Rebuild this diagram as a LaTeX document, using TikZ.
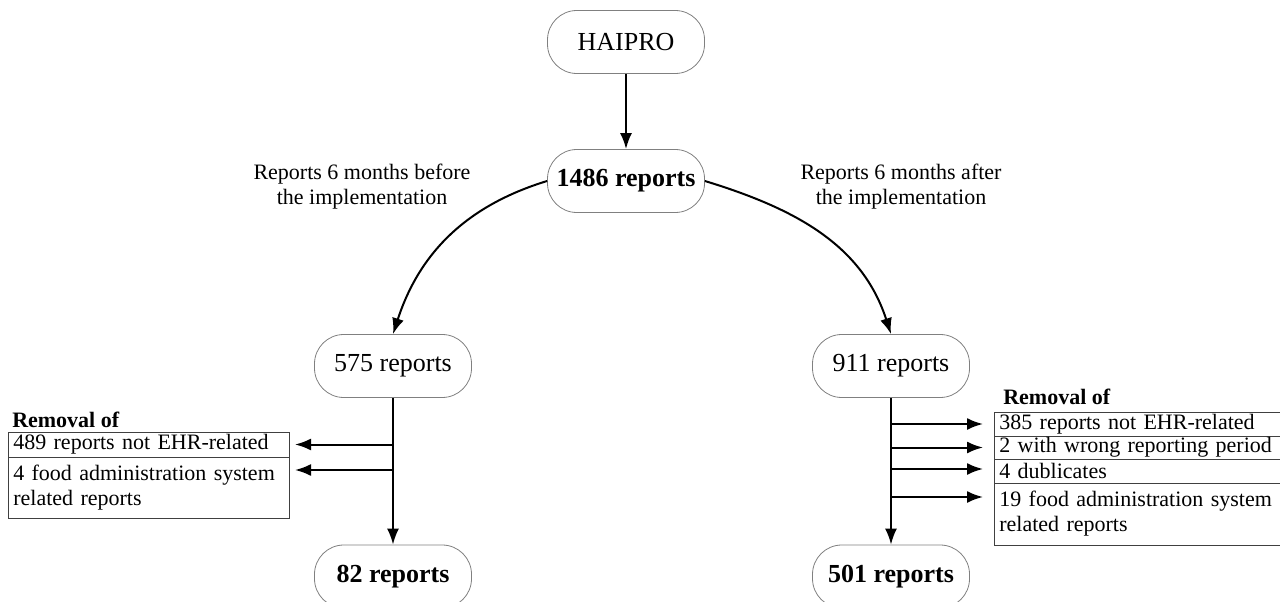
\documentclass[tikz,border=0pt]{standalone}
\usepackage{fontspec}
\setmainfont{Liberation Serif}
\usepackage{tikz}
\usetikzlibrary{arrows.meta}
\usetikzlibrary{positioning}
\usetikzlibrary{calc}

\begin{document}
\begin{tikzpicture}[x=0.75pt,y=0.75pt,yscale=-1,xscale=1,
  pill/.style={draw={rgb, 255:red, 128; green, 128; blue, 128 },line width=0.6pt,rounded corners=22pt,minimum width=117.75pt,minimum height=47.25pt,inner sep=0pt,font=\fontsize{19.5}{23}\selectfont},
  remlist/.style={draw={rgb, 255:red, 64; green, 64; blue, 64 },line width=0.6pt,anchor=north west,outer sep=0pt,inner xsep=4pt,inner ysep=0pt,align=left,font=\fontsize{16.5}{18.75}\selectfont},
  smalltext/.style={font=\fontsize{16.5}{18.75}\selectfont},
  flow/.style={line width=1.5pt,-{Latex[length=12pt,width=9pt]}}]
\useasboundingbox (0,0) rectangle (1280,602);

%Shape: Rounded Rect [id:haipro]
\node [pill] (haipro) at (626,42) {HAIPRO};
%Shape: Rounded Rect [id:total]
\node [pill] (n1486) at (626,181) {\bfseries 1486 reports};
%Shape: Rounded Rect [id:before]
\node [pill] (n575) at (393,366) {575 reports};
%Shape: Rounded Rect [id:after]
\node [pill] (n911) at (891,366) {911 reports};
%Shape: Rounded Rect [id:beforefinal]
\node [pill] (n82) at (393,576.5) {\bfseries 82 reports};
%Shape: Rounded Rect [id:afterfinal]
\node [pill] (n501) at (891,576.5) {\bfseries 501 reports};

% Text Node
\node [smalltext,align=center] (lblbefore) at (362,187) {Reports 6 months before\\the implementation};
% Text Node
\node [smalltext,align=center] (lblafter) at (901,187) {Reports 6 months after\\the implementation};

% Text Node
\node [smalltext,anchor=base west,inner sep=0pt] (lremtitle) at (12,427) {\bfseries Removal of};
%Shape: Rectangle [id:leftlist]
\node [remlist,text width=202.75pt,minimum height=18.75pt] (lrem1) at (8,432) {489 reports not EHR-related};
\node [remlist,text width=202.75pt,minimum height=45.75pt,below=0pt of lrem1] (lrem2) {4 food administration system\\related reports};

% Text Node
\node [smalltext,anchor=base west,inner sep=0pt] (rremtitle) at (1003,404) {\bfseries Removal of};
%Shape: Rectangle [id:rightlist]
\node [remlist,text width=217pt,minimum height=18pt] (rrem1) at (994,412) {385 reports not EHR-related};
\node [remlist,text width=217pt,minimum height=17.25pt,below=0pt of rrem1] (rrem2) {2 with wrong reporting period};
\node [remlist,text width=217pt,minimum height=18pt,below=0pt of rrem2] (rrem3) {4 dublicates};
\node [remlist,text width=217pt,minimum height=46.5pt,below=0pt of rrem3] (rrem4) {19 food administration system\\related reports};

%Straight Lines [id:main]
\draw [flow] (haipro) -- (n1486);
%Curve Lines [id:split]
\draw [flow] (n1486.west) to[out=163,in=-72] (n575.north);
\draw [flow] (n1486.east) to[out=17,in=-108] (n911.north);
%Straight Lines [id:leftdown]
\draw [flow] (n575.south) -- (n82.north);
\coordinate (ltip1) at ($(lrem1.east)+(6,0)$);
\coordinate (ltip2) at ($(lrem2.north east)+(6,13)$);
\draw [flow] (n575.south |- ltip1) -- (ltip1);
\draw [flow] (n575.south |- ltip2) -- (ltip2);
%Straight Lines [id:rightdown]
\draw [flow] (n911.south) -- (n501.north);
\coordinate (rtip1) at ($(rrem1.west)+(-11,0)$);
\coordinate (rtip2) at ($(rrem2.west)+(-11,0)$);
\coordinate (rtip3) at ($(rrem3.west)+(-11,-2)$);
\coordinate (rtip4) at ($(rrem4.north west)+(-11,14)$);
\foreach \t in {rtip1,rtip2,rtip3,rtip4} {
  \draw [flow] (n911.south |- \t) -- (\t);
}

\end{tikzpicture}
\end{document}
